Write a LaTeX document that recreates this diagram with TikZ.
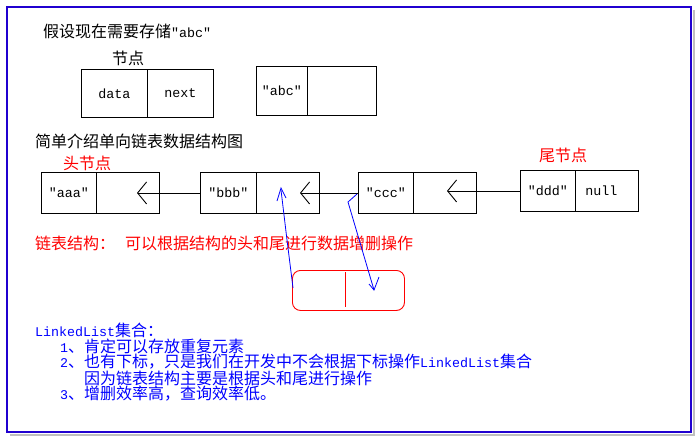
\documentclass[tikz,border=0pt]{standalone}
\usepackage{fontspec}
\setmainfont{Noto Sans CJK SC}
\newfontfamily\monofam{Liberation Mono}
\newcommand\latx[1]{{\monofam\fontsize{13.33}{16}\selectfont #1}}
\usetikzlibrary{arrows.meta}
\definecolor{frameblue}{RGB}{32,0,208}
\begin{document}
\begin{tikzpicture}[x=1pt,y=-1pt,
  cell/.style={draw, line width=0.9pt, inner sep=0pt, anchor=north west,
    font=\monofam\fontsize{13.33}{16}\selectfont},
  cjk/.style={font=\fontsize{16}{16}\selectfont, inner sep=0pt, anchor=west},
  link/.style={line width=0.9pt, -{Straight Barb[length=9pt,width=22pt,line width=0.9pt]}},
  hand/.style={draw=blue, line width=0.8pt},
]
\useasboundingbox (0,0) rectangle (698,440);
% frame
\draw[black!25, line width=2pt] (10,434.5) -- (693.5,434.5) -- (693.5,10);
\draw[frameblue, line width=2.5pt] (7,7) rectangle (691,432);

% titles
\node[cjk] (title) at (43,31) {假设现在需要存储\latx{"abc"}};
\node[cjk] (nodelbl) at (112,58) {节点};

% node structure
\node[cell, minimum width=66pt, minimum height=48pt] (dataC) at (81,69) {data};
\node[cell, minimum width=66pt, minimum height=48pt] (nextC) at (147,69) {next};

\node[cell, minimum width=51pt, minimum height=49pt] (abcL) at (256,66) {"abc"};
\node[cell, minimum width=69pt, minimum height=49pt] (abcR) at (307,66) {};

\node[cjk] (intro) at (35,141) {简单介绍单向链表数据结构图};
\node[cjk, text=red] (head) at (63,163) {头节点};
\node[cjk, text=red] (tail) at (539,155) {尾节点};

% list
\node[cell, minimum width=55pt, minimum height=41pt] (aaaL) at (41,172) {"aaa"};
\node[cell, minimum width=63pt, minimum height=41pt] (aaaR) at (96,172) {};
\node[cell, minimum width=56pt, minimum height=41pt] (bbbL) at (200,172) {"bbb"};
\node[cell, minimum width=63pt, minimum height=41pt] (bbbR) at (256,172) {};
\node[cell, minimum width=55pt, minimum height=41pt] (cccL) at (358,172) {"ccc"};
\node[cell, minimum width=63pt, minimum height=41pt] (cccR) at (413,172) {};
\node[cell, minimum width=55pt, minimum height=41pt] (dddL) at (520,170) {"ddd"};
\node[cell, minimum width=63pt, minimum height=41pt, text width=55pt, align=left] (dddR) at (575,170) {\hspace*{6pt}null};

\coordinate (tipA) at (137,192);
\coordinate (tipB) at (300,192);
\coordinate (tipC) at (447,191);
\draw[link] (bbbL.west) -- (tipA |- bbbL.west);
\draw[link] (cccL.west) -- (tipB |- cccL.west);
\draw[link] (dddL.west) -- (tipC |- dddL.west);

% red text
\node[cjk, text=red] (desc) at (35,243) {链表结构：\hspace{10pt}可以根据结构的头和尾进行数据增删操作};

% new node
\node[draw=red, line width=0.9pt, rounded corners=8pt, minimum width=112pt,
  minimum height=40pt, anchor=north west, inner sep=0pt] (newn) at (292,270) {};
\draw[red, line width=0.9pt] ([xshift=53pt,yshift=-2pt]newn.north west) -- ([xshift=53pt,yshift=4pt]newn.south west);

% hand-drawn blue arrows
\draw[hand] (293,288) -- (287,240) -- (281,190);
\draw[hand] (277,201) -- (281,188) -- (286,198);
\draw[hand] (357,194) -- (348,202) -- (374,290);
\draw[hand] (369,284) -- (374,290) -- (379,277);

% notes
\node[cjk, text=blue] (n0) at (35,330) {\latx{LinkedList}集合：};
\node[cjk, text=blue] (n1) at (60,346) {\latx{1}、肯定可以存放重复元素};
\node[cjk, text=blue] (n2) at (60,362) {\latx{2}、也有下标，只是我们在开发中不会根据下标操作\latx{LinkedList}集合};
\node[cjk, text=blue] (n3) at (84,378) {因为链表结构主要是根据头和尾进行操作};
\node[cjk, text=blue] (n4) at (60,394) {\latx{3}、增删效率高，查询效率低。};
\end{tikzpicture}
\end{document}
